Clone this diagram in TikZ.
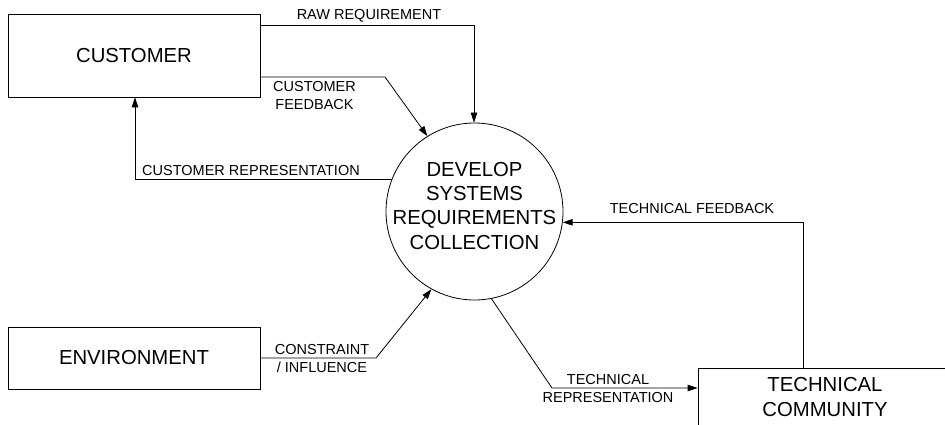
\documentclass[tikz,border=0pt]{standalone}
\usepackage{fontspec}
\setmainfont{Liberation Sans}
\usetikzlibrary{arrows.meta}
\begin{document}
\begin{tikzpicture}[x=1pt,y=-1pt,
  bigtext/.style={font=\fontsize{20.3}{24.3}\selectfont, align=center},
  boxnode/.style={draw, line width=0.8pt, rectangle, inner sep=0pt, bigtext},
  flowlabel/.style={font=\fontsize{14.5}{18}\selectfont, align=center, inner sep=0pt},
  flow/.style={draw, line width=0.8pt, -{Triangle[length=10pt,width=6.5pt]}}]
\useasboundingbox (0,0) rectangle (945,425);
\clip (0,0) rectangle (945,425);
\fill[white] (0,0) rectangle (945,425);

% entities
\node[boxnode, minimum width=252pt, minimum height=83pt] (cust) at (134,55.5) {CUSTOMER};
\node[boxnode, minimum width=252pt, minimum height=62pt] (env) at (134,358) {ENVIRONMENT};
\node[boxnode, minimum width=254pt, minimum height=58pt] (tech) at (825,397) {TECHNICAL\\COMMUNITY};

% process
\node[draw, circle, line width=0.8pt, minimum size=177pt, inner sep=0pt] (proc) at (474.5,211.5) {};
\node[bigtext, inner sep=0pt] (proctext) at (474.5,205.8) {DEVELOP\\SYSTEMS\\REQUIREMENTS\\COLLECTION};

% bend points
\coordinate (rawc) at (474,25);
\coordinate (fbc) at (385,77);
\coordinate (crc) at (135,180);
\coordinate (tfc) at (803,222.5);
\coordinate (cic) at (376,358);
\coordinate (trc) at (552,388);

% flows
\draw[flow] (cust.north east |- rawc) -- (rawc) -- (proc.north -| rawc);
\draw[flow] (cust.east |- fbc) -- (fbc) -- (proc.122);
\draw[flow] (proc.159) -- (crc |- proc.159) -- (crc |- cust.south);
\draw[flow] (tfc |- tech.north) -- (tfc |- proc.-7) -- (proc.-7);
\draw[flow] (env.east) -- (cic) -- (proc.241);
\draw[flow] (proc.-79) -- (trc) -- (tech.west |- trc);

% labels
\node[flowlabel] (rawl) at (369,16) {RAW REQUIREMENT};
\node[flowlabel] (fbl) at (314.5,95.7) {CUSTOMER\\FEEDBACK};
\node[flowlabel] (crl) at (251,170.5) {CUSTOMER REPRESENTATION};
\node[flowlabel] (tfl) at (692,209) {TECHNICAL FEEDBACK};
\node[flowlabel] (cil) at (322,358.7) {CONSTRAINT\\/ INFLUENCE};
\node[flowlabel] (trl) at (608,388.3) {TECHNICAL\\REPRESENTATION};
\end{tikzpicture}
\end{document}
